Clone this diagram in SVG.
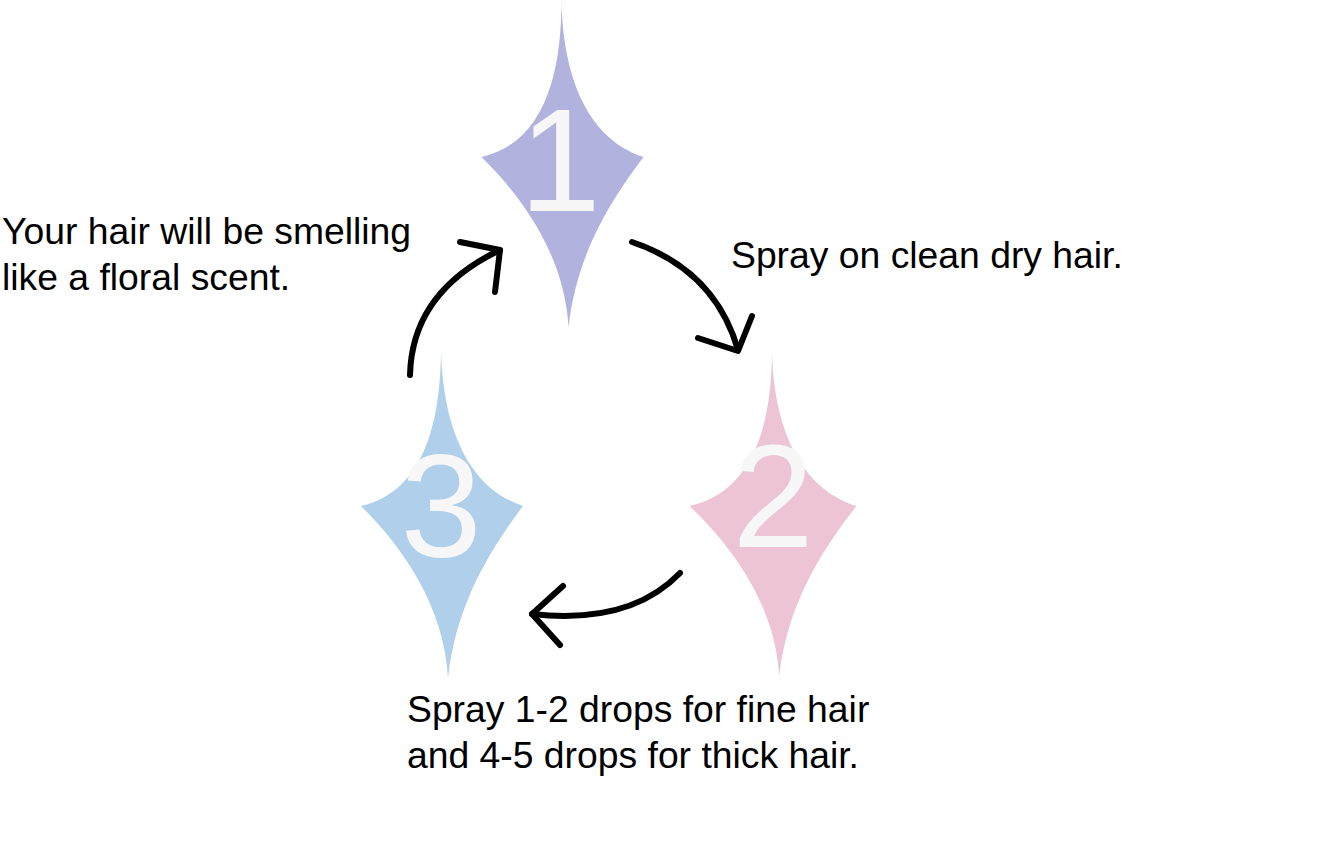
<svg xmlns="http://www.w3.org/2000/svg" xmlns:xlink="http://www.w3.org/1999/xlink" width="1339" height="849" viewBox="0 0 1339 849">
<style>
.lbl{font-family:"Liberation Sans",Arial,sans-serif;font-size:37.3px;fill:#000}
.num{font-family:"Liberation Sans",Arial,sans-serif;font-size:146px;fill:#f8f7f8;text-anchor:middle}
.arr{fill:none;stroke:#000;stroke-width:6;stroke-linecap:round;stroke-linejoin:round}
</style>
<defs>
<path id="star" d="M -1,-157 C 0,-90 20,-20 81,0 C 55,35 15,90 6,170 C 2,95 -45,35 -81,0 C -15,-15 -1,-90 -1,-157 Z"/>
</defs>
<rect width="1339" height="849" fill="#fff"/>
<g id="node1">
<use xlink:href="#star" transform="translate(562.5,157)" fill="#b1b2dd"/>
<text class="num" x="560" y="211">1</text>
</g>
<g id="node2">
<use xlink:href="#star" transform="translate(773,506) scale(1.03,1)" fill="#ecc4d5"/>
<text class="num" x="773" y="547">2</text>
</g>
<g id="node3">
<use xlink:href="#star" transform="translate(442,506) scale(1,1.01)" fill="#afcfea"/>
<text class="num" x="441" y="557">3</text>
</g>
<g id="connectors">
<path class="arr" d="M410,375 Q412,292 500,250"/>
<path class="arr" d="M460,242 L500,250 L495,292"/>
<path class="arr" d="M632,242 Q715,270 738,350"/>
<path class="arr" d="M698,338 L738,351 L752,316"/>
<path class="arr" d="M680,573 Q630,625 532,614"/>
<path class="arr" d="M563,586 L532,614 L560,645"/>
</g>
<g id="labels">
<text class="lbl" x="2" y="244">Your hair will be smelling</text>
<text class="lbl" x="2" y="290">like a floral scent.</text>
<text class="lbl" x="731" y="268">Spray on clean dry hair.</text>
<text class="lbl" x="407" y="722">Spray 1-2 drops for fine hair</text>
<text class="lbl" x="407" y="768">and 4-5 drops for thick hair.</text>
</g>
</svg>
